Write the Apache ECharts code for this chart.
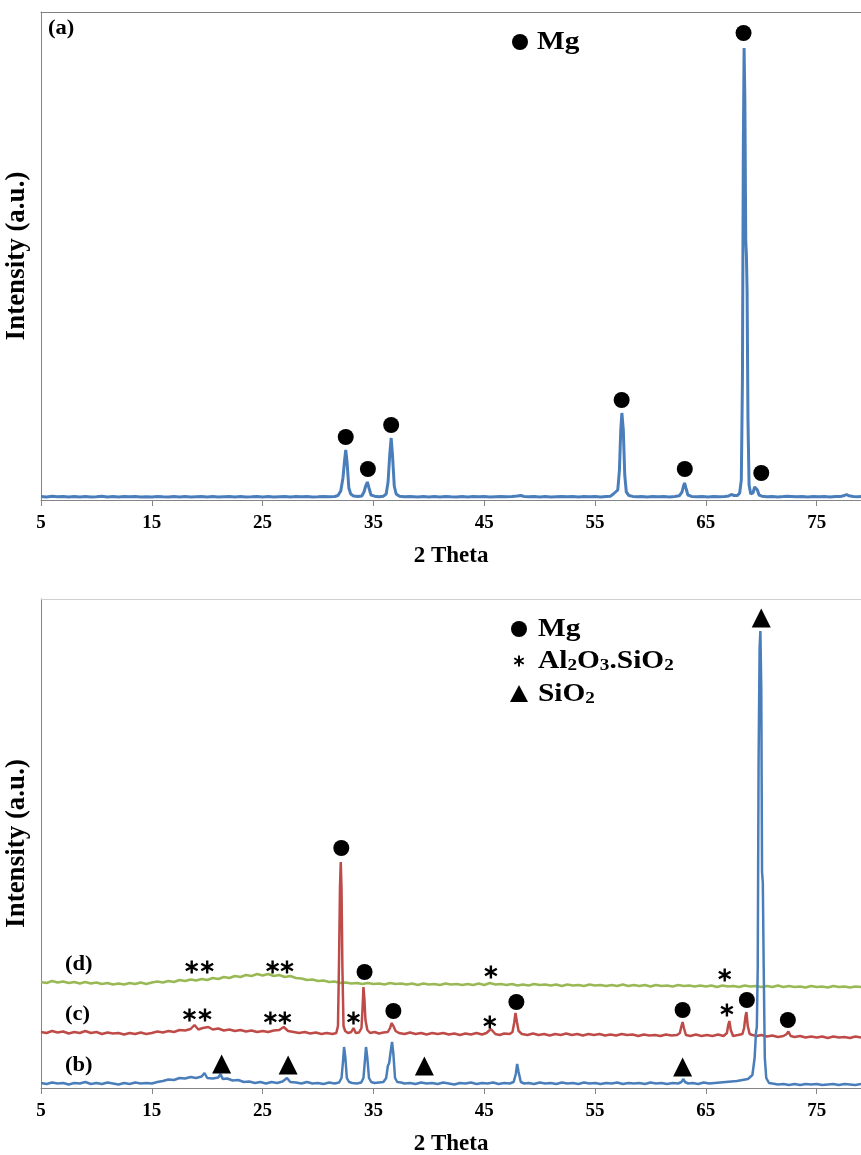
<!DOCTYPE html>
<html>
<head>
<meta charset="utf-8">
<title>XRD patterns</title>
<script src="https://cdn.jsdelivr.net/npm/echarts@6/dist/echarts.min.js"></script>
<style>
  html, body { margin: 0; padding: 0; background: #fff; }
  #chart { width: 861px; height: 1155px; }
</style>
</head>
<body>
<div id="chart"></div>
<script>
// ---- data (2 Theta, intensity a.u.) ----
var xTicks = [5, 15, 25, 35, 45, 55, 65, 75];

// (a) top panel pattern
var patternA = [
  [5,3.5],[5.5,3],[6,3.8],[6.5,3.2],[7,3.6],[7.5,3],[8,3.4],[8.5,3.1],[9,3.6],[9.5,3],[10,3.3],[10.5,3.7],
  [11,3.1],[11.5,3.4],[12,3],[12.5,3.5],[13,3.2],[13.5,3.6],[14,3],[14.5,3.3],[15,3.1],[15.5,3.5],[16,3.2],
  [16.5,3],[17,3.4],[17.5,3.1],[18,3.5],[18.5,3],[19,3.3],[19.5,3.6],[20,3.1],[20.5,3.4],[21,3],[21.5,3.3],
  [22,3.6],[22.5,3.1],[23,3.4],[23.5,3],[24,3.2],[24.5,3.5],[25,3.1],[25.5,3.4],[26,3],[26.5,3.3],[27,3.6],
  [27.5,3.1],[28,3.4],[28.5,3.2],[29,3.5],[29.5,3.1],[30,3.3],[30.5,3.6],[31,3.2],[31.5,3.5],[31.8,4.5],
  [32.05,9],[32.25,22],[32.4,40],[32.5,50],[32.62,38],[32.78,12],[32.95,6],[33.2,4],[33.6,3.5],[33.95,4],
  [34.15,8],[34.3,14],[34.45,18],[34.6,12],[34.78,5],[35.1,3.8],[35.5,3.2],[35.9,3.8],[36.15,6],[36.32,18],
  [36.47,45],[36.6,62],[36.72,45],[36.88,14],[37.05,6],[37.35,3.8],[37.8,3.2],[38.3,3.5],[39,3.1],[39.5,3.4],
  [40,3],[40.5,3.4],[41,3.1],[41.5,3.5],[42,3.2],[42.5,3],[43,3.4],[43.5,3.1],[44,3.5],[44.5,3.2],[45,3.4],
  [45.5,3],[46,3.3],[46.5,3.6],[47,3.2],[47.5,3.4],[48,3.9],[48.3,4.5],[48.6,3.5],[49,3.2],[49.5,3.5],[50,3.1],
  [50.5,3.4],[51,3],[51.5,3.3],[52,3.6],[52.5,3.2],[53,3.4],[53.5,3.1],[54,3.5],[54.5,3.2],[55,3.4],[55.5,3.1],
  [56,3.5],[56.4,3.8],[56.65,6],[56.85,8],[57.05,10],[57.2,30],[57.32,70],[57.42,87],[57.55,70],[57.68,25],
  [57.82,8],[58.05,4.5],[58.4,3.6],[58.8,3.3],[59.2,3.5],[59.7,3.1],[60.2,3.4],[60.7,3.2],[61.2,3.5],
  [61.7,3.1],[62.2,3.6],[62.6,4.2],[62.85,8],[62.98,14],[63.08,17],[63.2,12],[63.38,5],[63.7,3.6],[64.2,3.3],
  [64.7,3.6],[65.2,3.1],[65.7,3.4],[66.2,3.2],[66.7,3.5],[67.05,4],[67.3,5.5],[67.55,4.5],[67.85,4.5],
  [68.05,7],[68.2,20],[68.3,120],[68.38,350],[68.45,452],[68.52,400],[68.6,260],[68.66,244],[68.72,210],
  [68.8,80],[68.9,15],[69.05,6],[69.25,7],[69.4,13],[69.52,15],[69.65,10],[69.8,5],[70.05,3.8],[70.5,3.3],
  [71,3.5],[71.5,3.1],[72,3.4],[72.35,3.8],[72.52,5],[72.7,3.6],[73.2,3.2],[73.7,3.5],[74.2,3.1],[74.7,3.4],
  [75.2,3.2],[75.7,3.5],[76.2,3.1],[76.7,3.4],[77.2,3.6],[77.5,4.5],[77.7,5.5],[77.9,4.2],[78.3,3.4],
  [78.7,3.3],[79,3.4]
];
var mgMarksA = [[32.5,63],[34.5,31],[36.6,75],[57.4,100],[63.1,31],[68.4,467],[70.0,27]];

// (b) blue pattern, bottom panel
var patternB = [
  [5,5],[5.5,4],[6,5.5],[6.5,4.5],[7,5],[7.5,3.5],[8,5],[8.5,4.5],[9,6],[9.5,4],[10,5],[10.5,4],[11,5.5],
  [11.5,4.5],[12,3.5],[12.5,5],[13,4],[13.5,5.5],[14,4.5],[14.5,5],[15,4.5],[15.5,6],[16,7],[16.5,8.5],
  [17,8],[17.5,10],[18,9.5],[18.5,11],[19,10],[19.5,11.5],[19.75,15],[20,10],[20.5,9.5],[21,10.5],[21.2,14],
  [21.4,9],[21.8,9.5],[22.3,7.5],[22.8,8],[23.3,6],[23.8,6.5],[24.3,5],[24.8,6],[25.3,4.5],[25.8,6],[26.3,5],
  [26.8,6.5],[27.2,10],[27.5,6],[28,5.5],[28.5,4.5],[29,6],[29.5,4.5],[30,5],[30.5,4],[31,5.5],[31.5,4.5],
  [31.9,5.5],[32.12,10],[32.25,26],[32.35,41],[32.47,30],[32.6,10],[32.8,6],[33.1,5],[33.5,4.5],[33.9,5.5],
  [34.1,10],[34.22,26],[34.33,41],[34.45,30],[34.6,10],[34.8,6],[35.1,5],[35.5,5.5],[35.9,6],[36.15,10],
  [36.3,22],[36.42,25],[36.55,36],[36.68,46],[36.8,34],[36.95,10],[37.15,6],[37.5,5.5],[37.8,4.5],[38.3,5],
  [38.8,4],[39.3,5.5],[39.8,4.5],[40.3,5],[40.8,4],[41.3,5.5],[41.8,4.5],[42.3,3.5],[42.8,5],[43.3,4.5],
  [43.8,5.5],[44.3,4],[44.8,5],[45.3,4.5],[45.8,5.5],[46.3,4],[46.8,5],[47.3,4.5],[47.65,6],[47.85,14],
  [47.97,24],[48.1,16],[48.3,6],[48.6,4.5],[49,5],[49.5,4],[50,5.5],[50.5,4.5],[51,5],[51.5,4],[52,5.5],
  [52.5,4.5],[53,5],[53.5,4],[54,5.5],[54.5,4.5],[55,5],[55.5,4],[56,5],[56.5,4.5],[57,5.5],[57.5,4],[58,5],
  [58.5,4.5],[59,5],[59.5,4],[60,5.5],[60.5,4.5],[61,5],[61.5,4],[62,5],[62.5,4.5],[62.8,6],[62.95,9],
  [63.12,6],[63.4,4.5],[63.8,5],[64.3,4],[64.8,5.5],[65.3,4.5],[65.8,5],[66.3,5.5],[66.8,6],[67.3,6.5],
  [67.8,7],[68.3,8],[68.8,9],[69.2,13],[69.4,30],[69.52,55],[69.6,61],[69.68,120],[69.76,330],[69.85,440],
  [69.92,457],[70.0,400],[70.07,216],[70.14,205],[70.22,120],[70.32,30],[70.45,10],[70.7,5],[71,4.5],
  [71.5,3.5],[72,4],[72.5,3],[73,4],[73.5,3],[74,4],[74.5,3.5],[75,4],[75.5,3],[76,3.5],[76.5,4],[77,3],
  [77.5,4],[78,3.5],[78.5,3],[79,4]
];

// (c) red pattern
var patternC = [
  [5,56],[5.5,55],[6,57],[6.5,55.5],[7,56.5],[7.5,54.5],[8,56],[8.5,55],[9,57],[9.5,55],[10,56],[10.5,54],
  [11,55.5],[11.5,54.5],[12,55],[12.5,53.5],[13,55],[13.5,54],[14,55.5],[14.5,54],[15,55],[15.5,56.5],
  [16,55.5],[16.5,57],[17,56],[17.5,58],[18,57.5],[18.5,59],[18.85,63],[19.2,58.5],[19.6,60],[20.1,61],
  [20.5,58.5],[21,59.5],[21.5,57.5],[22,58.5],[22.5,57],[23,58],[23.5,56.5],[24,57.5],[24.5,56],[25,57],
  [25.5,56],[26,57.5],[26.5,58],[26.9,61],[27.3,57],[27.8,56],[28.3,55],[28.8,56],[29.3,54.5],[29.8,55.5],
  [30.3,54],[30.8,55],[31.3,54],[31.65,55],[31.8,62],[31.9,130],[31.98,200],[32.05,226],[32.12,200],
  [32.2,120],[32.3,62],[32.45,57],[32.7,55],[33,56],[33.2,60],[33.4,55],[33.7,55.5],[33.92,60],[34.02,80],
  [34.1,101],[34.18,90],[34.28,68],[34.45,58],[34.7,55],[35.1,56],[35.5,54.5],[35.9,55.5],[36.3,56],
  [36.5,60],[36.65,65],[36.8,62],[37,57],[37.3,55],[37.8,54],[38.3,55.5],[38.8,54],[39.3,55],[39.8,53.5],
  [40.3,55],[40.8,54],[41.3,55],[41.8,53.5],[42.3,54.5],[42.8,53],[43.3,54.5],[43.8,53.5],[44.3,55],
  [44.8,53.5],[45.2,55],[45.6,59],[46,54],[46.4,53],[46.8,54.5],[47.3,54],[47.55,56],[47.7,65],[47.82,75],
  [47.95,66],[48.1,57],[48.4,54],[48.9,53],[49.4,54.5],[49.9,53],[50.4,54],[50.9,52.5],[51.4,54],[51.9,53],
  [52.4,54.5],[52.9,53],[53.4,54],[53.9,52.5],[54.4,54],[54.9,53],[55.4,54],[55.9,52.5],[56.4,53.5],
  [56.9,52.5],[57.4,54],[57.9,53],[58.4,53.5],[58.9,52],[59.4,53.5],[59.9,52.5],[60.4,53],[60.9,52],
  [61.4,53.5],[61.9,52.5],[62.4,53],[62.65,55],[62.8,62],[62.9,66],[63.02,60],[63.2,53],[63.6,52],
  [64.1,53.5],[64.6,52],[65.1,53],[65.6,52],[66.1,53.5],[66.6,52],[66.9,55],[67.02,63],[67.12,67],
  [67.25,58],[67.45,52],[67.9,53],[68.3,54],[68.45,60],[68.58,72],[68.66,76],[68.78,62],[68.95,54],
  [69.2,53],[69.6,52],[70,53],[70.5,51.5],[71,52.5],[71.5,51],[72,52],[72.3,54],[72.45,56.5],[72.65,52],
  [73,51],[73.5,52],[74,50.5],[74.5,51.5],[75,50.5],[75.5,51.5],[76,50],[76.5,51.5],[77,50.5],[77.5,51],
  [78,50],[78.5,51.5],[79,50.5]
];

// (d) green pattern
var patternD = [
  [5,106],[5.5,105],[6,107],[6.5,105.5],[7,106.5],[7.5,105],[8,106],[8.5,104.5],[9,106],[9.5,104.5],
  [10,105.5],[10.5,104],[11,105],[11.5,103.5],[12,104.5],[12.5,103.5],[13,105],[13.5,104],[14,105.5],
  [14.5,104],[15,105.5],[15.5,106.5],[16,105.5],[16.5,107],[17,106],[17.5,108],[18,107],[18.5,108.5],
  [19,107.5],[19.5,109],[20,108],[20.5,110],[21,109],[21.5,111],[22,110],[22.5,112],[23,111],[23.5,113],
  [24,112],[24.5,114],[25,112.5],[25.5,114],[26,112],[26.5,113],[27,111],[27.5,112],[28,110],[28.5,109.5],
  [29,108],[29.5,108.5],[30,107],[30.5,107.5],[31,106],[31.5,106.5],[32,105],[32.5,105.5],[33,104.5],
  [33.5,105],[34,104],[34.5,105],[35,104],[35.5,104.5],[36,103.5],[36.5,105],[37,104],[37.5,104.5],
  [38,103.5],[38.5,104.5],[39,103],[39.5,104.5],[40,103.5],[40.5,104],[41,103],[41.5,104.5],[42,103.5],
  [42.5,104],[43,103],[43.5,104],[44,103],[44.5,104.5],[45,103],[45.5,105],[46,103.5],[46.5,104],[47,103],
  [47.5,104],[48,102.5],[48.5,103.5],[49,102.5],[49.5,104],[50,103],[50.5,103.5],[51,102.5],[51.5,103.5],
  [52,102],[52.5,103.5],[53,102.5],[53.5,103],[54,102],[54.5,103.5],[55,102.5],[55.5,103],[56,102],
  [56.5,103],[57,102],[57.5,103.5],[58,102],[58.5,103],[59,102],[59.5,103],[60,101.5],[60.5,103],[61,102],
  [61.5,102.5],[62,101.5],[62.5,103],[63,102],[63.5,102.5],[64,101.5],[64.5,102.5],[65,101.5],[65.5,102.5],
  [66,101],[66.5,102.5],[67,101.5],[67.5,102],[68,101],[68.5,102.5],[69,101.5],[69.5,102],[70,101],
  [70.5,102],[71,101],[71.5,102.5],[72,101],[72.5,102],[73,101],[73.5,101.5],[74,100.5],[74.5,102],
  [75,101],[75.5,101.5],[76,100.5],[76.5,102],[77,101],[77.5,101.5],[78,100.5],[78.5,101.5],[79,101]
];

// phase markers, bottom panel
var mgMarksB = [[32.1,240],[34.2,116],[36.8,77],[47.9,86],[62.9,78],[68.7,88],[72.4,68]];
var sio2MarksB = [[70.0,470],[21.3,24],[27.3,23],[39.6,22],[62.9,21]];
var aloMarksB = [
  [18.6,121],[20.0,121],[25.9,121],[27.2,121],[45.6,116],[66.7,113],
  [18.4,73],[19.8,73],[25.7,70],[27.0,70],[33.2,70],[45.5,66],[66.9,78]
];
var curveLabels = [['(d)',965],['(c)',1015],['(b)',1066]];

(function() {
    'use strict';

    var FONT = '"Liberation Serif", "Times New Roman", serif';
    var AXIS_GRAY = '#858585';
    var X_MIN = 5, X_MAX = 79;   // plot runs off the right edge of the figure
    var STRETCH = 1.13;          // the source figure's text is a little wide

    // six-armed asterisk: three bars in a 20x20 box
    var STAR_BARS = [
        [[8.25,0],[11.75,0],[11.75,20],[8.25,20]],
        [[2.215,3.484],[19.535,13.484],[17.785,16.516],[0.465,6.516]],
        [[19.535,6.516],[2.215,16.516],[0.465,13.484],[17.785,3.484]]
    ];
    var STAR_PATH = 'path://' + STAR_BARS.map(function(bar) {
        return bar.map(function(p, i) { return (i ? 'L' : 'M') + p[0] + ',' + p[1]; }).join('') + 'Z';
    }).join('');

    function xAxisFor(idx) {
        return {
            gridIndex: idx, type: 'value', min: X_MIN, max: X_MAX, interval: 10,
            axisLine: { lineStyle: { color: AXIS_GRAY, width: 1 } },
            axisTick: { show: true, length: 6, lineStyle: { color: AXIS_GRAY } },
            axisLabel: {
                fontFamily: FONT, fontWeight: 'bold', fontSize: 19, color: '#000', margin: 14,
                showMaxLabel: false,
                formatter: function(v) { return xTicks.indexOf(v) >= 0 ? String(v) : ''; }
            },
            splitLine: { show: false },
            name: '2 Theta', nameLocation: 'middle', nameGap: 45,
            nameTextStyle: { fontFamily: FONT, fontWeight: 'bold', fontSize: 23, color: '#000' }
        };
    }

    // frame line along the top of a panel
    function topFrame(idx, color) {
        return {
            gridIndex: idx, type: 'value', position: 'top', min: X_MIN, max: X_MAX,
            axisLine: { show: true, lineStyle: { color: color } },
            axisTick: { show: false }, axisLabel: { show: false }, splitLine: { show: false }
        };
    }

    function yAxisFor(idx, max) {
        return {
            gridIndex: idx, type: 'value', min: 0, max: max,
            axisLine: { show: true, lineStyle: { color: AXIS_GRAY } },
            axisTick: { show: false }, axisLabel: { show: false }, splitLine: { show: false },
            name: 'Intensity (a.u.)', nameLocation: 'middle', nameGap: 10,
            nameTextStyle: { fontFamily: FONT, fontWeight: 'bold', fontSize: 27, color: '#000' }
        };
    }

    function lineSeries(idx, data, color, width) {
        return {
            type: 'line', xAxisIndex: idx, yAxisIndex: idx, data: data,
            showSymbol: false, symbol: 'none', silent: true, animation: false,
            lineStyle: { color: color, width: width }
        };
    }

    function markSeries(idx, data, symbol, size) {
        return {
            type: 'scatter', xAxisIndex: idx, yAxisIndex: idx, data: data, z: 5,
            symbol: symbol, symbolSize: size, silent: true, animation: false,
            itemStyle: { color: '#000', opacity: 1 }
        };
    }

    function wideText(x, y, text, size, rich) {
        var style = { text: text, font: 'bold ' + size + 'px ' + FONT, fill: '#000', verticalAlign: 'middle' };
        if (rich) style.rich = rich;
        return { type: 'text', x: x, y: y, scaleX: STRETCH, style: style };
    }

    var subRich = { s: { fontFamily: FONT, fontWeight: 'bold', fontSize: 17, verticalAlign: 'bottom', lineHeight: 14 } };

    var chart = echarts.init(document.getElementById('chart'), null, { renderer: 'canvas' });

    var graphics = [
        wideText(48, 29, '(a)', 20),
        // legend, top panel
        { type: 'circle', shape: { cx: 520, cy: 42, r: 8 }, style: { fill: '#000' } },
        wideText(537, 42, 'Mg', 26),
        // legend, bottom panel
        { type: 'circle', shape: { cx: 519, cy: 629, r: 8 }, style: { fill: '#000' } },
        wideText(538, 629, 'Mg', 26),
        { type: 'polygon', shape: { points: [[519, 685], [528, 702], [510, 702]] }, style: { fill: '#000' } },
        wideText(538, 661, 'Al{s|2}O{s|3}.SiO{s|2}', 26, subRich),
        wideText(538, 694, 'SiO{s|2}', 26, subRich)
    ];
    // legend asterisk, same shape as the plot marks
    STAR_BARS.forEach(function(bar) {
        graphics.push({ type: 'polygon', x: 513.5, y: 655.5, scaleX: 0.55, scaleY: 0.55,
            shape: { points: bar }, style: { fill: '#000' } });
    });
    curveLabels.forEach(function(c) {
        graphics.push(wideText(65, c[1], c[0], 20));
    });

    chart.setOption({
        backgroundColor: '#fff',
        animation: false,
        grid: [
            { left: 41, right: 0, top: 12, bottom: 655, containLabel: false, outerBoundsMode: 'none' },
            { left: 41, right: 0, top: 599, bottom: 67, containLabel: false, outerBoundsMode: 'none' }
        ],
        xAxis: [xAxisFor(0), xAxisFor(1), topFrame(0, '#808080'), topFrame(1, '#d0d0d0')],
        yAxis: [yAxisFor(0, 488), yAxisFor(1, 489)],
        series: [
            lineSeries(0, patternA, '#4A7EBB', 3),
            markSeries(0, mgMarksA, 'circle', 16),
            lineSeries(1, patternD, '#98B954', 2.5),
            lineSeries(1, patternC, '#BE4B48', 2.5),
            lineSeries(1, patternB, '#4A7EBB', 2.5),
            markSeries(1, mgMarksB, 'circle', 16),
            markSeries(1, sio2MarksB, 'triangle', 19),
            markSeries(1, aloMarksB, STAR_PATH, 13)
        ],
        graphic: graphics
    });

    window.addEventListener('resize', function() {
        try { chart.resize(); } catch (e) {}
    });
})();
</script>
</body>
</html>
